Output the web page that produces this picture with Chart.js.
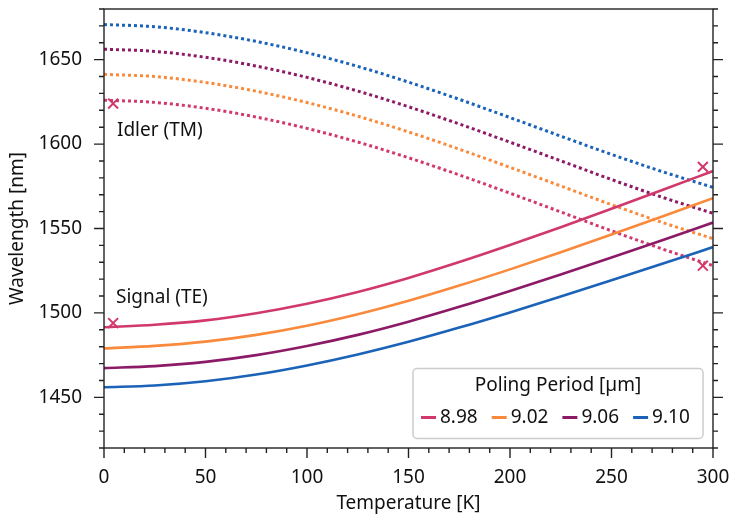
<!DOCTYPE html>
<html>
<head>
<meta charset="utf-8">
<script src="https://cdn.jsdelivr.net/npm/chart.js@4.4.1/dist/chart.umd.min.js"></script>
<style>
  html, body { margin: 0; padding: 0; background: #fff; }
  #wrap { width: 731px; height: 519px; }
</style>
</head>
<body>
<div id="wrap"><canvas id="chart"></canvas></div>
<script>
// temperature grid [K]
const temps = [0, 25, 50, 75, 100, 125, 150, 175, 200, 225, 250, 275, 300];

const periods = ['8.98', '9.02', '9.06', '9.10'];
const colors = ['#d1386c', '#f98a3b', '#8c1a66', '#1b63b8'];

// signal (TE) wavelengths [nm], solid lines
const signal898 = [1491.5, 1493, 1495.6, 1499.8, 1505.4, 1512.4, 1520.7, 1530.1, 1540.2, 1550.8, 1561.7, 1572.8, 1584];
const signal902 = [1479, 1480.5, 1483, 1487, 1492.4, 1499.2, 1507.2, 1516.2, 1525.8, 1535.9, 1546.4, 1557.1, 1568];
const signal906 = [1467.3, 1468.5, 1471, 1475, 1480.4, 1487, 1494.8, 1503.6, 1513, 1522.8, 1532.8, 1543, 1553.5];
const signal910 = [1456, 1457, 1459.5, 1463.5, 1468.9, 1475.4, 1482.9, 1491.3, 1500.3, 1509.7, 1519.3, 1529.1, 1539];

// idler (TM) wavelengths [nm], dotted lines
const idler898 = [1626, 1624.7, 1621.2, 1616, 1609.3, 1601.2, 1591.9, 1581.7, 1570.9, 1559.8, 1548.6, 1537.9, 1528];
const idler902 = [1641.3, 1640, 1636.5, 1631.3, 1624.6, 1616.5, 1607.2, 1597, 1586.2, 1575.2, 1564.1, 1553.6, 1544];
const idler906 = [1656.2, 1654.9, 1651.4, 1646.2, 1639.5, 1631.4, 1622.1, 1611.9, 1601.1, 1590.1, 1579, 1568.5, 1559];
const idler910 = [1670.8, 1669.5, 1666, 1660.8, 1654.1, 1646, 1636.7, 1626.5, 1615.7, 1604.7, 1593.9, 1583.7, 1574.4];

// measured points (crosses)
const markerTemps = [4.5, 4.5, 295, 295];
const markerWavelengths = [1494, 1624, 1586.5, 1528];

const signals = [signal898, signal902, signal906, signal910];
const idlers = [idler898, idler902, idler906, idler910];

const toPoints = (ys) => temps.map((t, i) => ({ x: t, y: ys[i] }));

const datasets = [];
periods.forEach((p, i) => {
    datasets.push({
        label: p,
        data: toPoints(signals[i]),
        borderColor: colors[i],
        borderWidth: 2.6,
        pointRadius: 0,
        cubicInterpolationMode: 'monotone'
    });
});
periods.forEach((p, i) => {
    datasets.push({
        label: p + ' idler',
        data: toPoints(idlers[i]),
        borderColor: colors[i],
        borderWidth: 3,
        borderDash: [3, 3],
        pointRadius: 0,
        cubicInterpolationMode: 'monotone'
    });
});
datasets.push({
    label: 'measured',
    data: markerTemps.map((t, i) => ({ x: t, y: markerWavelengths[i] })),
    showLine: false,
    pointStyle: 'crossRot',
    pointRadius: 7,
    borderWidth: 2,
    borderColor: colors[0],
    backgroundColor: colors[0]
});

const FONT = 'Noto Sans';
const FSIZE = 19;

// frame, major/minor ticks, text labels and legend
const decorations = {
    id: 'decorations',
    afterDraw(chart) {
        const { ctx, chartArea: a, scales: { x, y } } = chart;
        ctx.save();
        ctx.strokeStyle = '#222';
        ctx.lineWidth = 1.4;
        ctx.strokeRect(a.left, a.top, a.right - a.left, a.bottom - a.top);

        ctx.beginPath();
        x.ticks.forEach(t => {
            const px = x.getPixelForValue(t.value);
            const len = t.value % 50 === 0 ? 10 : 5;
            ctx.moveTo(px, a.bottom);
            ctx.lineTo(px, a.bottom + len);
        });
        y.ticks.forEach(t => {
            const py = y.getPixelForValue(t.value);
            const len = t.value % 50 === 0 ? 10 : 5;
            ctx.moveTo(a.left, py);
            ctx.lineTo(a.left - len, py);
            ctx.moveTo(a.right, py);
            ctx.lineTo(a.right + len, py);
        });
        ctx.stroke();

        // annotations
        ctx.fillStyle = '#111';
        ctx.font = FSIZE + 'px "' + FONT + '"';
        ctx.textAlign = 'left';
        ctx.textBaseline = 'middle';
        ctx.fillText('Idler (TM)', x.getPixelForValue(6.4), y.getPixelForValue(1608));
        ctx.fillText('Signal (TE)', x.getPixelForValue(5.9), y.getPixelForValue(1509));

        // legend
        const bw = 290, bh = 70;
        const bx = a.right - 10 - bw, by = a.bottom - 9.5 - bh;
        ctx.fillStyle = 'rgba(255,255,255,0.9)';
        ctx.strokeStyle = '#cccccc';
        ctx.lineWidth = 1.5;
        ctx.beginPath();
        ctx.roundRect(bx, by, bw, bh, 4);
        ctx.fill();
        ctx.stroke();

        ctx.fillStyle = '#111';
        ctx.textAlign = 'center';
        ctx.fillText('Poling Period [\u00b5m]', bx + bw / 2, by + 17);

        ctx.textAlign = 'left';
        let cx = bx + 8;
        const rowY = by + 49;
        periods.forEach((p, i) => {
            ctx.strokeStyle = colors[i];
            ctx.lineWidth = 3;
            ctx.beginPath();
            ctx.moveTo(cx, rowY);
            ctx.lineTo(cx + 15, rowY);
            ctx.stroke();
            ctx.fillStyle = '#111';
            ctx.fillText(p, cx + 19, rowY);
            cx += 19 + ctx.measureText(p).width + 14;
        });
        ctx.restore();
    }
};

new Chart(document.getElementById('chart').getContext('2d'), {
    type: 'line',
    data: { datasets: datasets },
    options: {
        responsive: true,
        maintainAspectRatio: false,
        animation: false,
        layout: { padding: { top: 6, right: 18, left: 0, bottom: 0 } },
        plugins: {
            legend: { display: false },
            tooltip: { enabled: false }
        },
        scales: {
            x: {
                type: 'linear',
                min: 0,
                max: 300,
                grid: { display: false, drawTicks: false },
                border: { display: false },
                ticks: {
                    stepSize: 10,
                    autoSkip: false,
                    maxRotation: 0,
                    padding: 18,
                    color: '#111',
                    font: { family: FONT, size: FSIZE },
                    callback: v => (v % 50 === 0 ? v : '')
                },
                title: {
                    display: true,
                    text: 'Temperature [K]',
                    color: '#111',
                    font: { family: FONT, size: FSIZE },
                    padding: { top: 0, bottom: 4 }
                },
                afterFit: s => {
                    s.height = 71;
                    s.paddingLeft = 0;
                    s.paddingRight = 0;
                }
            },
            y: {
                min: 1420,
                max: 1680,
                grid: { display: false, drawTicks: false },
                border: { display: false },
                ticks: {
                    stepSize: 10,
                    autoSkip: false,
                    padding: 22,
                    color: '#111',
                    font: { family: FONT, size: FSIZE },
                    callback: v => (v % 50 === 0 ? v : '')
                },
                title: {
                    display: true,
                    text: 'Wavelength [nm]',
                    color: '#111',
                    font: { family: FONT, size: FSIZE },
                    padding: { top: 6, bottom: 0 }
                },
                afterFit: s => {
                    s.width = 104;
                    s.paddingTop = 0;
                    s.paddingBottom = 0;
                }
            }
        }
    },
    plugins: [decorations]
});
</script>
</body>
</html>
